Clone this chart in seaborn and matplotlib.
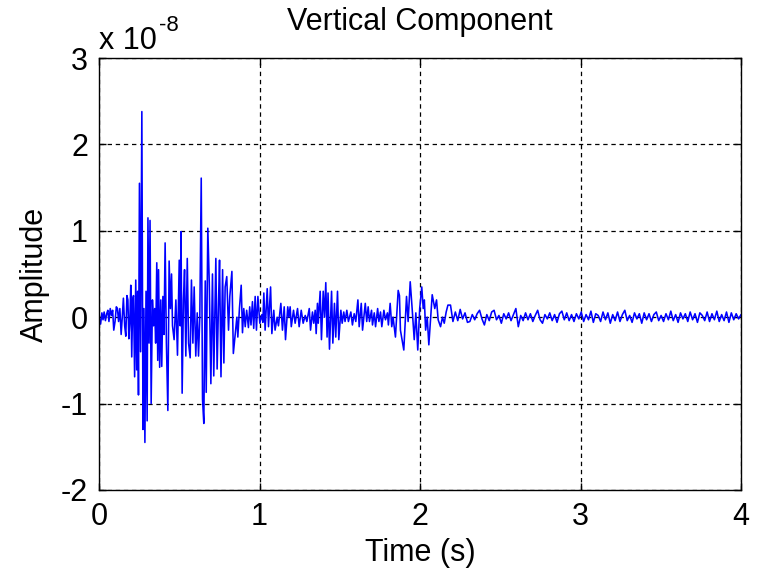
import numpy as np
import pandas as pd
import matplotlib
matplotlib.use("Agg")
import matplotlib.pyplot as plt
import seaborn as sns

# ---- data (amplitude in units of 1e-8) ----
event_time = [
    0.000, 0.010, 0.018, 0.025, 0.032, 0.040, 0.048, 0.055, 0.062, 0.070,
    0.078, 0.085, 0.092, 0.100, 0.108, 0.115, 0.122, 0.130, 0.138, 0.145,
    0.152, 0.160, 0.167, 0.174, 0.180, 0.186, 0.192, 0.198, 0.204, 0.210,
    0.215, 0.222, 0.229, 0.235, 0.241, 0.246, 0.252, 0.259, 0.267, 0.274,
    0.280, 0.286, 0.293, 0.300, 0.305, 0.312, 0.318, 0.325, 0.333, 0.340,
    0.347, 0.353, 0.360, 0.366, 0.371, 0.378, 0.385, 0.391, 0.398, 0.405,
    0.412, 0.420, 0.429, 0.437, 0.445, 0.452, 0.458, 0.468, 0.479, 0.489,
    0.500, 0.506, 0.511, 0.518, 0.526, 0.533, 0.541, 0.550, 0.558, 0.568,
    0.576, 0.585, 0.593, 0.603, 0.612, 0.620, 0.628, 0.637, 0.645, 0.653,
    0.662, 0.668, 0.678, 0.687, 0.697, 0.707, 0.715, 0.728, 0.736, 0.745,
    0.751, 0.760, 0.770, 0.778, 0.786, 0.796, 0.807, 0.815, 0.828, 0.837,
    0.849, 0.859, 0.865, 0.875, 0.886, 0.894, 0.902, 0.911, 0.920, 0.931,
    0.939, 0.947, 0.956, 0.964, 0.973, 0.981, 0.990, 1.002, 1.015, 1.021,
    1.027, 1.035, 1.048, 1.056, 1.069, 1.077, 1.089, 1.097, 1.110, 1.118,
    1.133, 1.143, 1.154, 1.162, 1.176, 1.183, 1.191, 1.198, 1.212, 1.222,
    1.237, 1.247, 1.260, 1.272, 1.285, 1.295, 1.310, 1.318, 1.330, 1.338,
    1.347, 1.353, 1.361, 1.366, 1.378, 1.386, 1.397, 1.405, 1.413, 1.421,
    1.427, 1.436, 1.449, 1.457, 1.467, 1.475, 1.486, 1.494, 1.507, 1.515,
    1.525, 1.533, 1.544, 1.554, 1.569, 1.579, 1.590, 1.600, 1.613, 1.621,
    1.634, 1.642, 1.659, 1.668, 1.677, 1.685, 1.698, 1.704, 1.715, 1.723,
    1.736, 1.744, 1.754, 1.762, 1.775, 1.785, 1.797, 1.803, 1.814, 1.824,
    1.832, 1.847, 1.864, 1.872, 1.878, 1.899, 1.916, 1.926, 1.939, 1.951,
    1.964, 1.974, 1.986, 1.998, 2.011, 2.020, 2.027, 2.035, 2.045, 2.055,
    2.076, 2.092, 2.103, 2.113, 2.128, 2.140, 2.151, 2.163, 2.174,
]
event_amp = [
    0.00, -0.08, 0.05, -0.03, 0.06, -0.04, 0.04, 0.08, -0.05, 0.10,
    0.02, 0.08, -0.15, -0.05, 0.12, 0.10, -0.05, 0.10, -0.20, 0.00,
    0.22, -0.10, -0.22, 0.25, 0.20, -0.25, -0.05, 0.37, -0.46, 0.20,
    0.25, -0.69, 0.43, -0.61, 0.30, -0.90, 1.55, -0.40, 2.38, -1.30,
    0.10, -1.45, 0.30, -1.20, 1.15, -0.30, 1.12, -1.00, 0.20, -0.10,
    0.10, -0.30, 0.63, -0.50, 0.55, -0.58, 0.20, -0.57, 0.24, -0.20,
    0.86, -0.30, -1.08, 0.65, 0.10, 0.50, -0.10, -0.26, 0.20, -0.44,
    0.66, -0.10, 0.99, -0.88, 0.20, 0.55, -0.45, 0.68, -0.30, -0.47,
    0.43, -0.30, 0.35, -0.45, 0.05, -0.45, 0.00, 1.61, -0.95, -1.23,
    0.42, -0.87, 1.03, 0.40, -0.77, 0.50, -0.68, 0.68, -0.60, 0.20,
    0.66, -0.69, 0.55, -0.53, 0.35, 0.47, -0.15, 0.24, 0.53, -0.42,
    -0.19, 0.00, -0.23, 0.10, 0.37, -0.18, 0.10, -0.11, 0.08, -0.12,
    0.12, -0.09, 0.18, -0.13, 0.24, -0.15, 0.24, -0.07, 0.03, -0.06,
    0.28, -0.15, 0.33, -0.11, 0.35, -0.19, 0.08, -0.15, 0.00, -0.10,
    0.16, -0.15, 0.12, -0.26, 0.12, 0.00, 0.12, -0.11, 0.08, -0.07,
    0.10, -0.11, 0.08, -0.07, 0.02, -0.05, 0.10, -0.15, 0.06, -0.07,
    0.08, -0.19, 0.16, -0.07, 0.30, -0.26, 0.30, 0.00, 0.40, -0.23,
    0.28, -0.37, 0.30, -0.30, 0.16, -0.23, 0.30, -0.26, 0.08, -0.07,
    0.06, -0.05, 0.08, -0.05, 0.06, -0.09, 0.04, -0.05, 0.20, -0.11,
    0.16, -0.15, 0.16, -0.05, 0.12, -0.05, 0.08, -0.09, 0.05, -0.11,
    0.10, -0.05, 0.06, -0.11, 0.08, -0.03, 0.05, -0.09, 0.16, -0.11,
    0.00, -0.23, 0.31, 0.25, -0.15, -0.38, 0.24, -0.05, 0.41, 0.10,
    -0.26, 0.05, -0.38, 0.10, 0.35, 0.10, 0.20, -0.15, 0.00, -0.32,
    0.26, 0.10, 0.20, -0.03, -0.11, 0.00, -0.07, 0.06, 0.14,
]
coda_start, coda_end = 2.19, 4.0
coda_amp = [
    0.14, -0.05, 0.06, -0.04, 0.09, -0.02, 0.05, -0.06,
    -0.05, 0.03, -0.03, 0.04, 0.08, -0.02, -0.09, 0.03, -0.04, 0.06,
    0.08, -0.03, 0.02, -0.07, 0.04, -0.02, 0.05, -0.04, 0.03, 0.10,
    -0.11, 0.02, -0.04, 0.05, -0.03, 0.04, -0.05, 0.02, 0.08, -0.03,
    -0.07, 0.03, -0.02, 0.05, -0.04, 0.03, -0.06, 0.04, 0.07, -0.03,
    0.05, -0.04, 0.03, -0.05, 0.04, -0.02, 0.06, -0.05, 0.03, -0.03,
    0.07, -0.06, 0.04, 0.02, -0.05, 0.06, -0.03, 0.05, -0.07, 0.03,
    -0.04, 0.06, -0.05, 0.03, 0.08, -0.04, 0.02, -0.06, 0.05, -0.02,
    0.04, -0.07, 0.05, -0.03, 0.04, -0.05, 0.03, 0.06, -0.04, 0.02,
    -0.05, 0.04, -0.03, 0.07, -0.04, 0.03, -0.06, 0.05, -0.02, 0.04,
    -0.05, 0.06, -0.03, 0.04, -0.06, 0.05, 0.02, -0.04, 0.06, -0.05,
    0.04, -0.03, 0.07, -0.05, 0.03, -0.04, 0.06, -0.06, 0.05, -0.03,
    0.04, -0.02, 0.03,
]
x_ticks = [0, 1, 2, 3, 4]
y_ticks = [-2, -1, 0, 1, 2, 3]
title_text = "Vertical Component"
x_label = "Time (s)"
y_label = "Amplitude"
exponent_base = "x 10"
exponent_power = "-8"

coda_time = np.linspace(coda_start, coda_end, len(coda_amp))
df = pd.DataFrame({
    "time": np.concatenate([event_time, coda_time]),
    "amp": np.concatenate([event_amp, coda_amp]),
})

sns.set_theme(style="ticks")
plt.rcParams["font.family"] = ["Liberation Sans Narrow", "Liberation Sans", "DejaVu Sans"]
plt.rcParams["axes.unicode_minus"] = False
plt.rcParams["text.color"] = "black"
plt.rcParams["axes.labelcolor"] = "black"

fig = plt.figure(figsize=(7.58, 5.72), dpi=100)
ax = fig.add_axes([0.1306, 0.1434, 0.8470, 0.7552])

sns.lineplot(data=df, x="time", y="amp", ax=ax, color="#0000ff", linewidth=1.15,
             estimator=None, sort=False)

ax.set_xlim(0, 4)
ax.set_ylim(-2, 3)
ax.set_xticks(x_ticks)
ax.set_yticks(y_ticks)
ax.set_xticklabels([str(v) for v in x_ticks])
ax.set_yticklabels([str(v) for v in y_ticks])
ax.grid(True, color="black", linestyle=(0, (3.5, 3)), linewidth=0.9)
for s in ax.spines.values():
    s.set_color("black")
    s.set_linewidth(1.0)
ax.tick_params(direction="in", length=5, width=1, top=True, right=True,
               labelsize=22, colors="black", labelcolor="black")
ax.tick_params(axis="x", pad=9)
ax.tick_params(axis="y", pad=8)
ax.set_xlabel(x_label, fontsize=22, labelpad=4, color="black")
ax.set_ylabel(y_label, fontsize=22, labelpad=8, color="black")
ax.set_title(title_text, fontsize=22, pad=20, color="black")
ax.text(0.0, 1.005, exponent_base, transform=ax.transAxes, fontsize=22,
        ha="left", va="bottom", color="black")
ax.text(0.093, 1.05, exponent_power, transform=ax.transAxes, fontsize=16,
        ha="left", va="bottom", color="black")

fig.savefig("out.png", dpi=100, facecolor="white")
